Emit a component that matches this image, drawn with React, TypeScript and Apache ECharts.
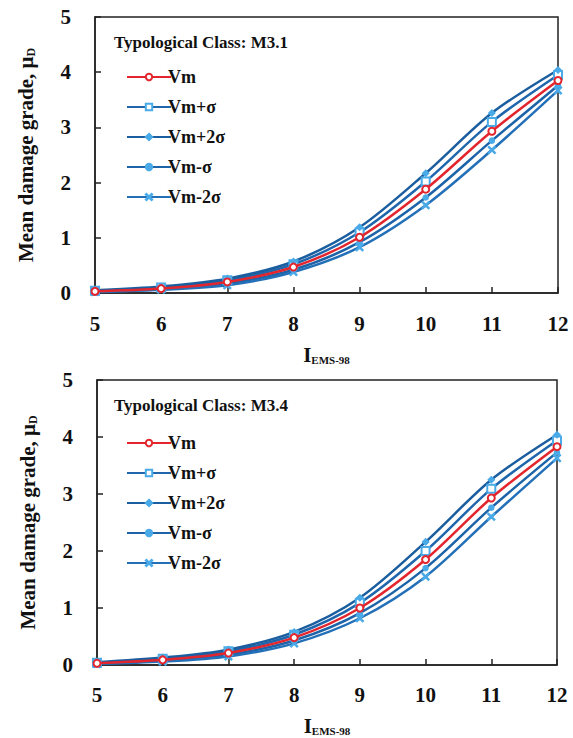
import React, { useEffect, useRef } from "react";
import * as echarts from "echarts";

const intensities = [5, 6, 7, 8, 9, 10, 11, 12];
const seriesNames = ["Vm", "Vm+σ", "Vm+2σ", "Vm-σ", "Vm-2σ"];

// M3.1
const m31Vm = [0.03, 0.08, 0.2, 0.47, 1.01, 1.88, 2.93, 3.85];
const m31VmP1 = [0.04, 0.1, 0.23, 0.52, 1.1, 2.02, 3.1, 3.95];
const m31VmP2 = [0.05, 0.12, 0.26, 0.57, 1.19, 2.17, 3.26, 4.04];
const m31VmM1 = [0.02, 0.07, 0.17, 0.42, 0.92, 1.73, 2.76, 3.76];
const m31VmM2 = [0.02, 0.06, 0.14, 0.38, 0.83, 1.59, 2.59, 3.67];

// M3.4
const m34Vm = [0.03, 0.09, 0.21, 0.48, 1.0, 1.85, 2.93, 3.83];
const m34VmP1 = [0.04, 0.11, 0.24, 0.53, 1.09, 2.0, 3.09, 3.94];
const m34VmP2 = [0.05, 0.13, 0.27, 0.58, 1.18, 2.16, 3.25, 4.04];
const m34VmM1 = [0.02, 0.08, 0.18, 0.43, 0.91, 1.7, 2.76, 3.73];
const m34VmM2 = [0.02, 0.06, 0.15, 0.38, 0.82, 1.55, 2.6, 3.63];

const yTicks = [0, 1, 2, 3, 4, 5];

const FONT = "'Liberation Serif', 'Times New Roman', serif";
const RED = "#e3262e";
const LINE_BLUE = "#1f66ad";
const MARK_BLUE = "#4aaae8";

const crossPath = "path://M0,1L1,0L5,4L9,0L10,1L6,5L10,9L9,10L5,6L1,10L0,9L4,5Z";

const styles = [
  { symbol: "emptyCircle", line: RED, mark: RED, size: 7 },
  { symbol: "emptyRect", line: LINE_BLUE, mark: MARK_BLUE, size: 8 },
  { symbol: "diamond", line: "#1b5e9f", mark: MARK_BLUE, size: 6 },
  { symbol: "circle", line: "#1d63a8", mark: MARK_BLUE, size: 5 },
  { symbol: crossPath, line: "#2470b8", mark: MARK_BLUE, size: 7 },
];

function makeSeries(values: number[][], gridIndex: number) {
  return values.map((vals, i) => ({
    name: seriesNames[i],
    type: "line",
    xAxisIndex: gridIndex,
    yAxisIndex: gridIndex,
    smooth: 0.3,
    z: i === 0 ? 5 : 3,
    symbol: styles[i].symbol,
    symbolSize: styles[i].size,
    showAllSymbol: true,
    data: vals.map((v, k) => [intensities[k], v]),
    lineStyle: { color: styles[i].line, width: 2.5 },
    itemStyle: {
      color: styles[i].mark,
      borderColor: styles[i].mark,
      borderWidth: 1.5,
    },
  }));
}

function xAxisCfg(gridIndex: number, margin: number, nameGap: number) {
  return {
    type: "value",
    gridIndex,
    min: 5,
    max: 12,
    interval: 1,
    name: "{a|I}{b|EMS-98}",
    nameLocation: "middle",
    nameGap,
    nameTextStyle: {
      rich: {
        a: { fontFamily: FONT, fontWeight: "bold", fontSize: 21, color: "#111" },
        b: {
          fontFamily: FONT,
          fontWeight: "bold",
          fontSize: 11,
          color: "#111",
          verticalAlign: "bottom",
          padding: [10, 0, 0, 0],
        },
      },
    },
    axisLine: { show: true, lineStyle: { color: "#222", width: 1.5 } },
    axisTick: { show: true, inside: true, length: 6, lineStyle: { color: "#222", width: 1.5 } },
    axisLabel: {
      margin,
      fontFamily: FONT,
      fontWeight: "bold",
      fontSize: 21,
      color: "#111",
    },
    splitLine: { show: false },
  };
}

function yAxisCfg(gridIndex: number) {
  return {
    type: "value",
    gridIndex,
    min: yTicks[0],
    max: yTicks[yTicks.length - 1],
    interval: 1,
    name: "{a|Mean damage grade, μ}{b|D}",
    nameLocation: "middle",
    nameGap: 58,
    nameTextStyle: {
      rich: {
        a: { fontFamily: FONT, fontWeight: "bold", fontSize: 21, color: "#111" },
        b: {
          fontFamily: FONT,
          fontWeight: "bold",
          fontSize: 12,
          color: "#111",
          padding: [10, 0, 0, 0],
        },
      },
    },
    axisLine: { show: true, lineStyle: { color: "#222", width: 1.5 } },
    axisTick: { show: true, inside: true, length: 6, lineStyle: { color: "#222", width: 1.5 } },
    axisLabel: {
      margin: 24,
      fontFamily: FONT,
      fontWeight: "bold",
      fontSize: 21,
      color: "#111",
    },
    splitLine: { show: false },
  };
}

function legendCfg(top: number) {
  return {
    orient: "vertical",
    left: 121,
    top,
    itemWidth: 44,
    itemHeight: 8,
    itemGap: 12,
    data: seriesNames,
    selectedMode: false,
    textStyle: {
      fontFamily: FONT,
      fontWeight: "bold",
      fontSize: 18,
      color: "#111",
      padding: [0, 0, 0, -8],
    },
  };
}

export default function App() {
  const ref = useRef<HTMLDivElement>(null);
  useEffect(() => {
    if (!ref.current) return;
    const chart = echarts.init(ref.current, null, { renderer: "svg" });
    chart.setOption({
      animation: false,
      backgroundColor: "#fff",
      grid: [
        { left: 95, top: 17, width: 463, height: 276, show: true, borderColor: "#222", borderWidth: 1.5 },
        { left: 97, top: 380, width: 460, height: 285, show: true, borderColor: "#222", borderWidth: 1.5 },
      ],
      xAxis: [xAxisCfg(0, 20, 51), xAxisCfg(1, 19, 50)],
      yAxis: [yAxisCfg(0), yAxisCfg(1)],
      legend: [legendCfg(63), legendCfg(429)],
      graphic: [
        {
          type: "text",
          left: 114,
          top: 34,
          style: {
            text: "Typological Class: M3.1",
            font: `bold 17px ${FONT}`,
            fill: "#111",
          },
        },
        {
          type: "text",
          left: 114,
          top: 397,
          style: {
            text: "Typological Class: M3.4",
            font: `bold 17px ${FONT}`,
            fill: "#111",
          },
        },
      ],
      series: [
        ...makeSeries([m31Vm, m31VmP1, m31VmP2, m31VmM1, m31VmM2], 0),
        ...makeSeries([m34Vm, m34VmP1, m34VmP2, m34VmM1, m34VmM2], 1),
      ],
    });
    return () => chart.dispose();
  }, []);
  return (
    <div
      ref={ref}
      style={{ position: "fixed", left: 0, top: 0, width: 573, height: 738 }}
    />
  );
}
